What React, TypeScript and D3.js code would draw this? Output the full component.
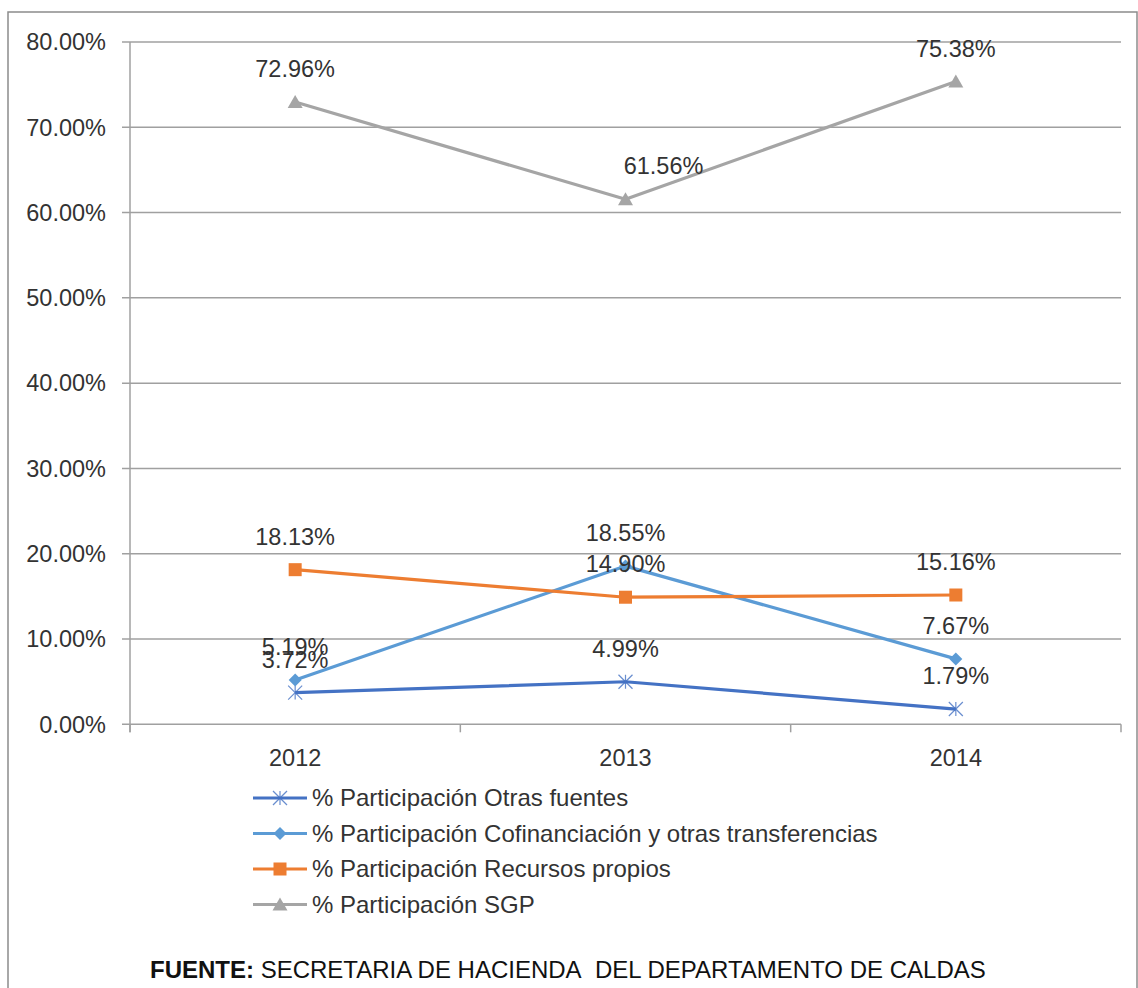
import * as d3 from "d3";

const years = ["2012", "2013", "2014"];
const otrasFuentes = [3.72, 4.99, 1.79];
const cofinanciacion = [5.19, 18.55, 7.67];
const recursosPropios = [18.13, 14.9, 15.16];
const sgp = [72.96, 61.56, 75.38];
const yTicks = [0, 10, 20, 30, 40, 50, 60, 70, 80];

const seriesNames = [
  "% Participación Otras fuentes",
  "% Participación Cofinanciación y otras transferencias",
  "% Participación Recursos propios",
  "% Participación SGP",
];

const W = 1138;
const H = 988;
const PLOT = { left: 130, right: 1121, top: 42, bottom: 724.3 };
const FONT = "'Liberation Sans', Arial, sans-serif";
const TEXT = "#333";

type Marker = "star" | "diamond" | "square" | "triangle";

function MarkerShape({ kind, x, y, color }: { kind: Marker; x: number; y: number; color: string }) {
  if (kind === "star") {
    const r = 7;
    return (
      <g stroke={color} strokeWidth={1.2} opacity={0.8}>
        <line x1={x - r} y1={y - r} x2={x + r} y2={y + r} />
        <line x1={x - r} y1={y + r} x2={x + r} y2={y - r} />
        <line x1={x} y1={y - r} x2={x} y2={y + r} />
      </g>
    );
  }
  if (kind === "diamond") {
    const r = 6.5;
    return <path d={`M${x},${y - r}L${x + r},${y}L${x},${y + r}L${x - r},${y}Z`} fill={color} />;
  }
  if (kind === "square") {
    return <rect x={x - 6.5} y={y - 6.5} width={13} height={13} fill={color} />;
  }
  return <path d={`M${x},${y - 7}L${x + 7.5},${y + 6}L${x - 7.5},${y + 6}Z`} fill={color} />;
}

export default function App() {
  const x = d3.scaleBand<string>().domain(years).range([PLOT.left, PLOT.right]);
  const y = d3.scaleLinear().domain([0, 80]).range([PLOT.bottom, PLOT.top]);
  const cx = (yr: string) => (x(yr) as number) + x.bandwidth() / 2;

  const series = [
    { name: seriesNames[0], values: otrasFuentes, color: "#4472C4", marker: "star" as Marker },
    { name: seriesNames[1], values: cofinanciacion, color: "#5B9BD5", marker: "diamond" as Marker },
    { name: seriesNames[2], values: recursosPropios, color: "#ED7D31", marker: "square" as Marker },
    { name: seriesNames[3], values: sgp, color: "#A5A5A5", marker: "triangle" as Marker },
  ];

  const line = d3
    .line<number>()
    .x((_, i) => cx(years[i]))
    .y((v) => y(v));

  // one label was moved aside in the original
  const labelShift = (si: number, i: number) => (si === 3 && i === 1 ? 38 : 0);

  const boundaries = [...years.map((yr) => x(yr) as number), PLOT.right];

  return (
    <svg
      width={W}
      height={H}
      style={{ position: "absolute", left: 0, top: 0, background: "#fff" }}
      fontFamily={FONT}
    >
      <rect x={8} y={12} width={1129} height={1000} fill="#fff" stroke="#8c8c8c" strokeWidth={1.5} />

      {yTicks.map((t) => (
        <g key={t}>
          <line x1={PLOT.left - 8} x2={PLOT.right} y1={y(t)} y2={y(t)} stroke="#a0a0a0" strokeWidth={1.5} />
          <text x={106} y={y(t)} dy="0.35em" textAnchor="end" fontSize={23.5} fill={TEXT}>
            {t.toFixed(2)}%
          </text>
        </g>
      ))}
      <line x1={PLOT.left} x2={PLOT.left} y1={PLOT.top} y2={PLOT.bottom + 8} stroke="#a0a0a0" strokeWidth={1.5} />
      {boundaries.map((b, i) => (
        <line key={i} x1={b} x2={b} y1={PLOT.bottom} y2={PLOT.bottom + 8} stroke="#a0a0a0" strokeWidth={1.5} />
      ))}
      {years.map((yr) => (
        <text key={yr} x={cx(yr)} y={758} dy="0.35em" textAnchor="middle" fontSize={23.5} fill={TEXT}>
          {yr}
        </text>
      ))}

      {series.map((s) => (
        <g key={s.name}>
          <path d={line(s.values) || ""} fill="none" stroke={s.color} strokeWidth={3.2} strokeLinejoin="round" />
          {s.values.map((v, i) => (
            <MarkerShape key={i} kind={s.marker} x={cx(years[i])} y={y(v)} color={s.color} />
          ))}
        </g>
      ))}

      {series.map((s, si) =>
        s.values.map((v, i) => (
          <text
            key={`${si}-${i}`}
            x={cx(years[i]) + labelShift(si, i)}
            y={y(v) - 33}
            dy="0.35em"
            textAnchor="middle"
            fontSize={23.5}
            fill={TEXT}
          >
            {v.toFixed(2)}%
          </text>
        ))
      )}

      {series.map((s, i) => {
        const ly = 798 + i * 35.5;
        return (
          <g key={s.name}>
            <line x1={253} x2={307} y1={ly} y2={ly} stroke={s.color} strokeWidth={3.2} />
            <MarkerShape kind={s.marker} x={280} y={ly} color={s.color} />
            <text x={312} y={ly} dy="0.35em" fontSize={24} fill={TEXT}>
              {s.name}
            </text>
          </g>
        );
      })}

      <text x={150} y={970} dy="0.35em" fontSize={24} fill="#111">
        <tspan fontWeight="bold">FUENTE:</tspan> SECRETARIA DE HACIENDA{"\u00a0 "}DEL DEPARTAMENTO DE CALDAS
      </text>
    </svg>
  );
}
